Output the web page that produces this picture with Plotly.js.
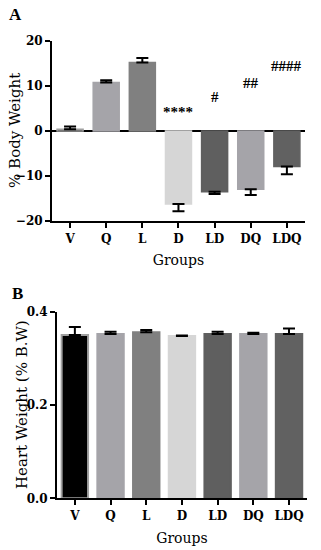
<!DOCTYPE html>
<html>
<head>
<meta charset="utf-8">
<script src="https://cdn.plot.ly/plotly-3.0.1.min.js"></script>
<style>html,body{margin:0;padding:0;background:#fff;}#chart{width:321px;height:550px;}</style>
</head>
<body>
<div id="chart"></div>
<script>
var groups = ["V", "Q", "L", "D", "LD", "DQ", "LDQ"];
var barColors = ["#000000", "#a5a4a9", "#808080", "#d6d6d6", "#5f5f5f", "#a5a4a9", "#616161"];
var lineColors = ["#a0a0a0", "#a5a4a9", "#808080", "#d6d6d6", "#5f5f5f", "#a5a4a9", "#616161"];
var bodyWeight = [0.4, 10.8, 15.2, -16.2, -13.5, -12.9, -7.9];
var bodyWeightErr = [0.6, 0.5, 1.0, 1.6, 0.5, 1.3, 1.7];
var sigLabels = ["", "", "", "****", "#", "##", "####"];
var sigY = [null, null, null, 4.3, 7.6, 10.6, 14.5];
var heartWeight = [0.350, 0.352, 0.356, 0.348, 0.352, 0.352, 0.352];
var heartWeightErr = [0.017, 0.005, 0.005, 0.001, 0.005, 0.003, 0.012];

var serif = "DejaVu Serif, serif";
var serif2 = "Liberation Serif, serif";

var bwPlus = bodyWeight.map(function(v, i){ return v >= 0 ? bodyWeightErr[i] : 0; });
var bwMinus = bodyWeight.map(function(v, i){ return v < 0 ? bodyWeightErr[i] : 0; });

var traces = [
  {
    type: "bar", x: groups, y: bodyWeight, xaxis: "x", yaxis: "y",
    width: 0.72,
    marker: {color: barColors, line: {color: lineColors, width: 1.5}},
    error_y: {type: "data", symmetric: false, array: bwPlus, arrayminus: bwMinus,
              color: "#000", thickness: 2, width: 6},
    showlegend: false, hoverinfo: "none"
  },
  {
    type: "bar", x: groups, y: heartWeight, xaxis: "x2", yaxis: "y2",
    width: 0.74,
    marker: {color: barColors, line: {color: lineColors, width: 2}},
    error_y: {type: "data", symmetric: false, array: heartWeightErr,
              arrayminus: heartWeightErr.map(function(){return 0;}),
              color: "#000", thickness: 2, width: 6},
    showlegend: false, hoverinfo: "none"
  }
];

var annotations = [];
groups.forEach(function(g, i){
  if (sigLabels[i]) {
    annotations.push({xref: "x", yref: "y", x: g, y: sigY[i], text: "<b>" + sigLabels[i] + "</b>",
      showarrow: false, font: {family: serif2, size: 15, color: "#000"}});
  }
});
annotations.push({xref: "paper", yref: "paper", x: 0.022, y: 0.974, xanchor: "left", yanchor: "middle",
  text: "<b>A</b>", showarrow: false, font: {family: serif2, size: 17, color: "#000"}});
annotations.push({xref: "paper", yref: "paper", x: 0.03, y: 0.466, xanchor: "left", yanchor: "middle",
  text: "<b>B</b>", showarrow: false, font: {family: serif2, size: 17, color: "#000"}});
// y-axis titles placed as rotated text
annotations.push({xref: "paper", yref: "paper", x: 15 / 321, y: 0.762, xanchor: "center", yanchor: "middle",
  textangle: -90, text: "% Body Weight", showarrow: false, font: {family: serif, size: 15, color: "#000"}});
annotations.push({xref: "paper", yref: "paper", x: 22 / 321, y: 0.2636, xanchor: "center", yanchor: "middle",
  textangle: -90, text: "Heart Weight (% B.W)", showarrow: false, font: {family: serif, size: 15, color: "#000"}});

var tickFont = {family: serif, size: 12, color: "#000", weight: "bold"};
var titleFont = {family: serif, size: 14, color: "#000"};

var layout = {
  width: 321, height: 550,
  margin: {l: 0, r: 0, t: 0, b: 0},
  paper_bgcolor: "#fff", plot_bgcolor: "#fff",
  xaxis: {
    domain: [0.162, 0.950], anchor: "y",
    showline: true, linecolor: "#000", linewidth: 2,
    ticks: "outside", ticklen: 5, tickwidth: 2, tickcolor: "#000",
    tickfont: tickFont, showgrid: false, zeroline: false,
    title: {text: "Groups", font: titleFont, standoff: 11}
  },
  yaxis: {
    domain: [0.598, 0.9255], anchor: "x", range: [-20, 20],
    tickvals: [-20, -10, 0, 10, 20],
    showline: true, linecolor: "#000", linewidth: 2,
    ticks: "outside", ticklen: 5, tickwidth: 2, tickcolor: "#000",
    tickfont: tickFont, showgrid: false,
    zeroline: true, zerolinecolor: "#000", zerolinewidth: 2
  },
  xaxis2: {
    domain: [0.1776, 0.956], anchor: "y2",
    showline: true, linecolor: "#000", linewidth: 2,
    ticks: "outside", ticklen: 5, tickwidth: 2, tickcolor: "#000",
    tickfont: tickFont, showgrid: false, zeroline: false,
    title: {text: "Groups", font: titleFont, standoff: 11}
  },
  yaxis2: {
    domain: [0.094, 0.4333], anchor: "x2", range: [0, 0.4],
    tickvals: [0, 0.2, 0.4], ticktext: ["0.0", "0.2", "0.4"],
    showline: true, linecolor: "#000", linewidth: 2,
    ticks: "outside", ticklen: 5, tickwidth: 2, tickcolor: "#000",
    tickfont: tickFont, showgrid: false, zeroline: false
  },
  annotations: annotations
};

Plotly.newPlot("chart", traces, layout, {staticPlot: true, displayModeBar: false});
</script>
</body>
</html>
